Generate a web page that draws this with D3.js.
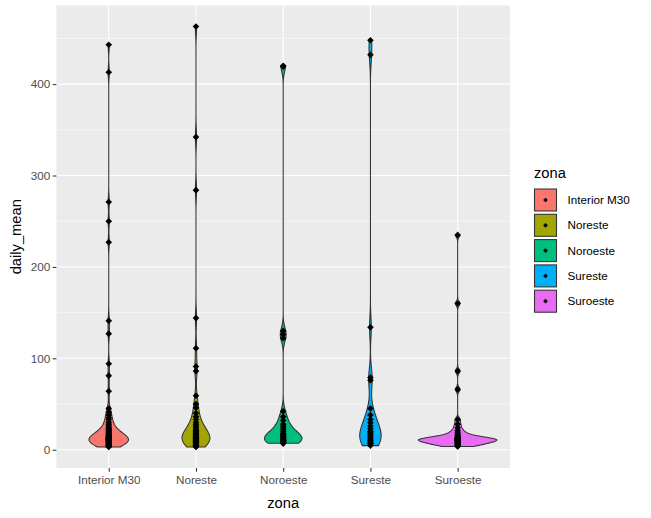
<!DOCTYPE html>
<html>
<head>
<meta charset="utf-8">
<script src="https://cdn.jsdelivr.net/npm/d3@7"></script>
<style>
  body { margin: 0; background: #fff; }
  svg { display: block; font-family: "Liberation Sans", Arial, sans-serif; }
</style>
</head>
<body>
<div id="wrapper"></div>
<script>
// data (daily_mean by zona)
const zonas = ["Interior M30", "Noreste", "Noroeste", "Sureste", "Suroeste"];
const colores = ["#F8766D", "#A3A500", "#00BF7D", "#00B0F6", "#E76BF3"];

const interiorM30 = [443, 413, 271, 250, 227, 141, 127, 94, 81, 64, 45, 41, 38, 35, 33,
  30, 28, 26, 24, 23, 22, 21, 20, 19, 18, 17, 16, 16, 15, 15, 14, 14, 13, 13, 13, 12, 12, 12, 12,
  11, 11, 11, 11, 10, 10, 10, 9, 9, 9, 8, 8, 7, 7, 6, 6, 5.5, 5, 4.5, 4, 3.5, 3];
const noreste = [463, 342, 284, 144, 111, 91, 86, 59, 50, 46, 40, 36, 33, 30, 28, 26, 24, 22,
  21, 20, 19, 18, 17, 16, 15, 14, 13, 13, 12, 12, 11, 11, 10, 10, 9, 9, 8, 8, 7, 6, 5, 4, 3];
const noroeste = [420, 419, 130, 126, 122, 42, 36, 32, 28, 26, 24, 22, 20, 18, 17, 16, 15, 14,
  13, 13, 12, 11, 11, 10, 10, 9, 9, 8, 8, 7, 7];
const sureste = [448, 432, 134, 79, 76, 45, 38, 33, 29.6, 26, 23, 20, 19, 17, 15, 13, 11, 9.9,
  8.5, 7, 6.6, 4.5];
const suroeste = [235, 160, 86, 66, 33, 28, 24, 21, 19, 17.5, 16, 15, 14, 13.5, 13, 12.5, 12, 12,
  11.5, 11.5, 11, 11, 11, 10.5, 10.5, 10, 10, 9.5, 9, 8.5, 8, 7.5, 7, 6.5, 6, 5.5, 5, 4.5, 4, 3.6];

const yTicks = [0, 100, 200, 300, 400];
const yMinor = [50, 150, 250, 350, 450];

async function drawViolins() {
  const dataset = zonas.map((z, i) => ({
    zona: z,
    color: colores[i],
    values: [interiorM30, noreste, noroeste, sureste, suroeste][i]
  }));

  // step 2: dimensions
  let dimensions = {
    width: 651,
    height: 518,
    margin: { top: 5.5, right: 141, bottom: 50, left: 56.4 },
  };
  dimensions.boundedWidth = dimensions.width - dimensions.margin.left - dimensions.margin.right;
  dimensions.boundedHeight = dimensions.height - dimensions.margin.top - dimensions.margin.bottom;

  // step 3: canvas
  const wrapper = d3.select('#wrapper')
    .append('svg')
    .attr('width', dimensions.width)
    .attr('height', dimensions.height);
  const bounds = wrapper.append('g')
    .attr('transform', `translate(${dimensions.margin.left}, ${dimensions.margin.top})`);

  // step 4: scales
  const allValues = dataset.flatMap(d => d.values);
  const [lo, hi] = d3.extent(allValues);
  const pad = (hi - lo) * 0.05;
  const yScale = d3.scaleLinear()
    .domain([lo - pad, hi + pad])
    .range([dimensions.boundedHeight, 0]);

  const xScale = d3.scalePoint()
    .domain(zonas)
    .range([0, dimensions.boundedWidth])
    .padding(0.6);
  const step = xScale.step();

  // kernel density like R's density(bw = "nrd0"), trimmed to the data range
  const bwNrd0 = v => {
    const s = d3.sort(v);
    const iqr = d3.quantileSorted(s, 0.75) - d3.quantileSorted(s, 0.25);
    const sd = d3.deviation(s);
    const low = Math.min(sd, iqr / 1.34) || sd || 1;
    return 0.9 * low * Math.pow(v.length, -0.2);
  };
  dataset.forEach(d => {
    const bw = bwNrd0(d.values);
    const [a, b] = d3.extent(d.values);
    const n = d.values.length;
    d.density = d3.range(512).map(k => {
      const y = a + (b - a) * k / 511;
      const dens = d3.sum(d.values, v => Math.exp(-0.5 * ((y - v) / bw) ** 2)) / (n * bw * Math.sqrt(2 * Math.PI));
      return { y, dens };
    });
  });
  // scale = "area": widest violin gets 0.9 of the band
  const maxDens = d3.max(dataset, d => d3.max(d.density, p => p.dens));
  const wScale = d3.scaleLinear().domain([0, maxDens]).range([0, step * 0.45]);

  // panel background and grid
  bounds.append('rect')
    .attr('width', dimensions.boundedWidth)
    .attr('height', dimensions.boundedHeight)
    .attr('fill', '#EBEBEB');
  bounds.append('g').selectAll('line')
    .data(yMinor)
    .join('line')
    .attr('x1', 0).attr('x2', dimensions.boundedWidth)
    .attr('y1', d => yScale(d)).attr('y2', d => yScale(d))
    .attr('stroke', '#fff').attr('stroke-width', 0.53);
  bounds.append('g').selectAll('line')
    .data(yTicks)
    .join('line')
    .attr('x1', 0).attr('x2', dimensions.boundedWidth)
    .attr('y1', d => yScale(d)).attr('y2', d => yScale(d))
    .attr('stroke', '#fff').attr('stroke-width', 1.07);
  bounds.append('g').selectAll('line')
    .data(zonas)
    .join('line')
    .attr('x1', d => xScale(d)).attr('x2', d => xScale(d))
    .attr('y1', 0).attr('y2', dimensions.boundedHeight)
    .attr('stroke', '#fff').attr('stroke-width', 1.07);

  // step 5: violins
  const violinArea = (cx) => d3.area()
    .y(p => yScale(p.y))
    .x0(p => cx - wScale(p.dens))
    .x1(p => cx + wScale(p.dens));
  bounds.append('g').selectAll('path')
    .data(dataset)
    .join('path')
    .attr('d', d => violinArea(xScale(d.zona))(d.density))
    .attr('fill', d => d.color)
    .attr('stroke', '#333333')
    .attr('stroke-width', 1.07);

  // points
  const diamond = d3.symbol().type(d3.symbolDiamond2).size(28);
  bounds.append('g').selectAll('g')
    .data(dataset)
    .join('g')
    .selectAll('path')
    .data(d => d.values.map(v => ({ zona: d.zona, v })))
    .join('path')
    .attr('transform', p => `translate(${xScale(p.zona)}, ${yScale(p.v)})`)
    .attr('d', diamond)
    .attr('fill', '#000');

  // step 6: axes
  const xAxis = bounds.append('g')
    .attr('transform', `translate(0, ${dimensions.boundedHeight})`)
    .call(d3.axisBottom(xScale).tickSizeOuter(0).tickSize(3.7).tickPadding(3.5));
  const yAxis = bounds.append('g')
    .call(d3.axisLeft(yScale).tickValues(yTicks).tickSizeOuter(0).tickSize(3.7).tickPadding(2.5));
  [xAxis, yAxis].forEach(ax => {
    ax.select('.domain').remove();
    ax.selectAll('.tick line').attr('stroke', '#333333').attr('stroke-width', 1.07);
    ax.selectAll('.tick text')
      .attr('fill', '#4D4D4D')
      .style('font-size', '11.7px')
      .style('font-family', '"Liberation Sans", Arial, sans-serif');
  });

  wrapper.append('text')
    .attr('x', dimensions.margin.left + dimensions.boundedWidth / 2)
    .attr('y', 508)
    .attr('text-anchor', 'middle')
    .style('font-size', '14.7px')
    .attr('fill', '#000')
    .text('zona');
  wrapper.append('text')
    .attr('transform', `translate(21, ${dimensions.margin.top + dimensions.boundedHeight / 2}) rotate(-90)`)
    .attr('text-anchor', 'middle')
    .style('font-size', '14.7px')
    .attr('fill', '#000')
    .text('daily_mean');

  // legend
  const legend = wrapper.append('g')
    .attr('transform', 'translate(534, 0)');
  legend.append('text')
    .attr('x', 0)
    .attr('y', 178)
    .style('font-size', '14.7px')
    .text('zona');
  const keys = legend.selectAll('g')
    .data(dataset)
    .join('g')
    .attr('transform', (d, i) => `translate(0, ${188.5 + i * 25.3})`);
  keys.append('rect')
    .attr('x', 0.5).attr('y', 0.5)
    .attr('width', 22).attr('height', 22)
    .attr('fill', d => d.color)
    .attr('stroke', '#333333')
    .attr('stroke-width', 1.07);
  keys.append('path')
    .attr('transform', 'translate(11.5, 11.5)')
    .attr('d', d3.symbol().type(d3.symbolDiamond2).size(14))
    .attr('fill', '#000');
  keys.append('text')
    .attr('x', 33.5)
    .attr('y', 11.5)
    .attr('dy', '0.35em')
    .style('font-size', '11.7px')
    .text(d => d.zona);
}
drawViolins();
</script>
</body>
</html>
